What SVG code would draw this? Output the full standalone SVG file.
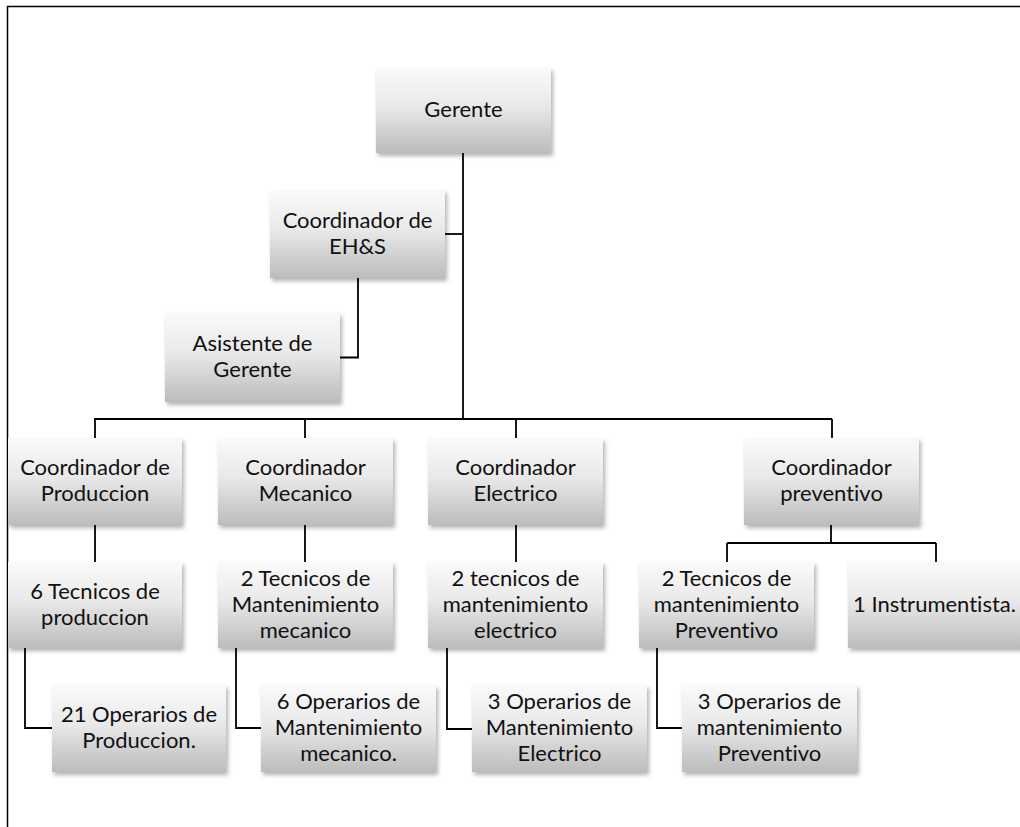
<svg xmlns="http://www.w3.org/2000/svg" width="1020" height="827" viewBox="0 0 1020 827">
<defs>
<linearGradient id="g" x1="0" y1="0" x2="0" y2="1">
<stop offset="0" stop-color="#fafafa"/>
<stop offset="0.45" stop-color="#e9e9e9"/>
<stop offset="1" stop-color="#bcbcbc"/>
</linearGradient>
<filter id="sh" x="-10%" y="-10%" width="125%" height="130%">
<feDropShadow dx="2" dy="3" stdDeviation="2" flood-color="#000" flood-opacity="0.3"/>
</filter>
</defs>
<style>
.box{fill:url(#g);filter:url(#sh);}
.t{font-family:Lato,"Liberation Sans",sans-serif;font-size:22px;fill:#111;text-anchor:middle;font-variant-ligatures:none;}
.c{fill:none;stroke:#000;stroke-width:1.8;}
.f{fill:none;stroke:#000;stroke-width:1.5;}
</style>
<rect x="0" y="0" width="1020" height="827" fill="#fff"/>
<path class="f" d="M7.5,827 V6.5 H1020"/>
<g id="connectors">
<path class="c" d="M463,153 V419"/>
<path class="c" d="M445,234 H463"/>
<path class="c" d="M358,278 V357.5 H340"/>
<path class="c" d="M94,419 H832"/>
<path class="c" d="M95,419 V438 M305,419 V438 M516,419 V438 M832,419 V438"/>
<path class="c" d="M95,525 V562 M305,525 V562 M516,525 V562"/>
<path class="c" d="M831,525 V543 M727,543 H936 M727,543 V562 M936,543 V562"/>
<path class="c" d="M25,648 V728 H52"/>
<path class="c" d="M236,648 V728 H261"/>
<path class="c" d="M447,648 V729 H472"/>
<path class="c" d="M657,648 V728 H682"/>
</g>
<g id="gerente"><rect class="box" x="376" y="68" width="175" height="85"/><text class="t" x="463.5" y="117">Gerente</text></g>
<g id="ehs"><rect class="box" x="270" y="190" width="175" height="88"/><text class="t" x="357.5" y="227.5">Coordinador de</text><text class="t" x="357.5" y="253.5">EH&amp;S</text></g>
<g id="asistente"><rect class="box" x="165" y="313" width="175" height="89"/><text class="t" x="252.5" y="351">Asistente de</text><text class="t" x="252.5" y="377">Gerente</text></g>
<g id="cprod"><rect class="box" x="8" y="438" width="174" height="87"/><text class="t" x="95" y="475">Coordinador de</text><text class="t" x="95" y="501">Produccion</text></g>
<g id="cmec"><rect class="box" x="218" y="438" width="175" height="87"/><text class="t" x="305.5" y="475">Coordinador</text><text class="t" x="305.5" y="501">Mecanico</text></g>
<g id="celec"><rect class="box" x="428" y="438" width="175" height="87"/><text class="t" x="515.5" y="475">Coordinador</text><text class="t" x="515.5" y="501">Electrico</text></g>
<g id="cprev"><rect class="box" x="744" y="438" width="175" height="87"/><text class="t" x="831.5" y="475">Coordinador</text><text class="t" x="831.5" y="501">preventivo</text></g>
<g id="tprod"><rect class="box" x="8" y="562" width="174" height="86"/><text class="t" x="95" y="598.5">6 Tecnicos de</text><text class="t" x="95" y="624.5">produccion</text></g>
<g id="tmec"><rect class="box" x="218" y="562" width="175" height="86"/><text class="t" x="305.5" y="585.5">2 Tecnicos de</text><text class="t" x="305.5" y="611.5">Mantenimiento</text><text class="t" x="305.5" y="637.5">mecanico</text></g>
<g id="telec"><rect class="box" x="428" y="562" width="175" height="86"/><text class="t" x="515.5" y="585.5">2 tecnicos de</text><text class="t" x="515.5" y="611.5">mantenimiento</text><text class="t" x="515.5" y="637.5">electrico</text></g>
<g id="tprev"><rect class="box" x="639" y="562" width="175" height="86"/><text class="t" x="726.5" y="585.5">2 Tecnicos de</text><text class="t" x="726.5" y="611.5">mantenimiento</text><text class="t" x="726.5" y="637.5">Preventivo</text></g>
<g id="instr"><rect class="box" x="848" y="562" width="175" height="86"/><text class="t" x="934.5" y="611.5">1 Instrumentista.</text></g>
<g id="oprod"><rect class="box" x="52" y="685" width="174" height="87"/><text class="t" x="139" y="722">21 Operarios de</text><text class="t" x="139" y="748">Produccion.</text></g>
<g id="omec"><rect class="box" x="261" y="685" width="175" height="87"/><text class="t" x="348.5" y="709">6 Operarios de</text><text class="t" x="348.5" y="735">Mantenimiento</text><text class="t" x="348.5" y="761">mecanico.</text></g>
<g id="oelec"><rect class="box" x="472" y="685" width="175" height="87"/><text class="t" x="559.5" y="709">3 Operarios de</text><text class="t" x="559.5" y="735">Mantenimiento</text><text class="t" x="559.5" y="761">Electrico</text></g>
<g id="oprev"><rect class="box" x="682" y="685" width="175" height="87"/><text class="t" x="769.5" y="709">3 Operarios de</text><text class="t" x="769.5" y="735">mantenimiento</text><text class="t" x="769.5" y="761">Preventivo</text></g>
</svg>
